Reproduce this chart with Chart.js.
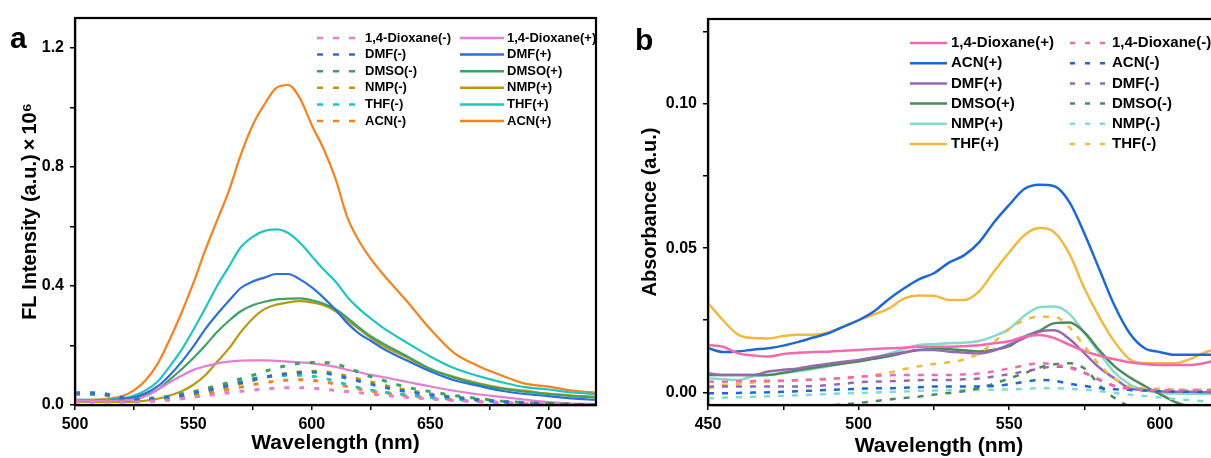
<!DOCTYPE html>
<html>
<head>
<meta charset="utf-8">
<script src="https://cdn.jsdelivr.net/npm/chart.js"></script>
<style>
  html, body { margin: 0; padding: 0; background: #fff; overflow: hidden; width: 1211px; height: 458px; }
  #wrapA { position: absolute; left: 0; top: 0; width: 600px; height: 458px; }
  #wrapB { position: absolute; left: 600px; top: 0; width: 640px; height: 458px; }
</style>
</head>
<body>
<div id="wrapA"><canvas id="chartA" width="600" height="458"></canvas></div>
<div id="wrapB"><canvas id="chartB" width="640" height="458"></canvas></div>
<script>
// ---- panel a : FL spectra ----
const aWavelength = [500, 510, 520, 525, 530, 535, 540, 545, 550, 555, 560, 565, 570, 575, 580, 585, 590, 595, 600, 605, 610, 615, 620, 625, 630, 640, 650, 660, 670, 680, 690, 700, 710, 720];
const aDioxaneP = [0.015, 0.014, 0.016, 0.019, 0.03, 0.052, 0.076, 0.098, 0.118, 0.13, 0.14, 0.146, 0.149, 0.15, 0.15, 0.148, 0.146, 0.143, 0.14, 0.135, 0.128, 0.118, 0.11, 0.101, 0.094, 0.078, 0.062, 0.048, 0.036, 0.027, 0.018, 0.01, 0.005, 0.003];
const aDmfP = [0.015, 0.015, 0.02, 0.026, 0.04, 0.063, 0.1, 0.145, 0.197, 0.255, 0.305, 0.35, 0.393, 0.415, 0.428, 0.44, 0.44, 0.422, 0.395, 0.36, 0.32, 0.275, 0.24, 0.215, 0.19, 0.15, 0.113, 0.083, 0.065, 0.048, 0.037, 0.03, 0.022, 0.017];
const aDmsoP = [0.013, 0.014, 0.018, 0.024, 0.034, 0.052, 0.085, 0.12, 0.158, 0.2, 0.245, 0.283, 0.315, 0.335, 0.347, 0.355, 0.357, 0.358, 0.352, 0.34, 0.322, 0.293, 0.26, 0.23, 0.207, 0.165, 0.122, 0.092, 0.07, 0.055, 0.045, 0.037, 0.03, 0.025];
const aNmpP = [0.012, 0.01, 0.01, 0.011, 0.015, 0.021, 0.032, 0.046, 0.068, 0.1, 0.145, 0.19, 0.245, 0.29, 0.322, 0.337, 0.345, 0.349, 0.345, 0.335, 0.315, 0.285, 0.255, 0.225, 0.2, 0.16, 0.12, 0.095, 0.074, 0.058, 0.048, 0.038, 0.032, 0.028];
const aThfP = [0.017, 0.017, 0.022, 0.032, 0.05, 0.08, 0.13, 0.185, 0.253, 0.325, 0.4, 0.465, 0.53, 0.565, 0.585, 0.59, 0.578, 0.545, 0.5, 0.455, 0.415, 0.363, 0.323, 0.29, 0.26, 0.21, 0.163, 0.124, 0.098, 0.077, 0.06, 0.052, 0.042, 0.037];
const aAcnP = [0.017, 0.018, 0.03, 0.05, 0.085, 0.14, 0.22, 0.31, 0.41, 0.52, 0.62, 0.72, 0.84, 0.94, 1.01, 1.065, 1.075, 1.03, 0.94, 0.86, 0.76, 0.63, 0.55, 0.49, 0.44, 0.35, 0.255, 0.175, 0.132, 0.1, 0.072, 0.062, 0.048, 0.042];
const aDioxaneM = [0.01, 0.01, 0.01, 0.01, 0.012, 0.014, 0.017, 0.021, 0.026, 0.031, 0.036, 0.041, 0.046, 0.05, 0.054, 0.057, 0.058, 0.058, 0.056, 0.053, 0.049, 0.045, 0.041, 0.037, 0.033, 0.026, 0.02, 0.015, 0.011, 0.008, 0.005, 0.003, 0.001, 0];
const aDmfM = [0.04, 0.04, 0.025, 0.02, 0.02, 0.022, 0.026, 0.032, 0.04, 0.048, 0.057, 0.066, 0.075, 0.085, 0.094, 0.1, 0.105, 0.109, 0.11, 0.108, 0.1, 0.09, 0.08, 0.07, 0.06, 0.045, 0.034, 0.025, 0.018, 0.012, 0.007, 0.004, 0.002, 0.001];
const aDmsoM = [0.04, 0.04, 0.02, 0.02, 0.022, 0.025, 0.03, 0.038, 0.045, 0.055, 0.065, 0.075, 0.088, 0.1, 0.113, 0.124, 0.133, 0.14, 0.143, 0.143, 0.138, 0.125, 0.11, 0.095, 0.083, 0.06, 0.045, 0.032, 0.022, 0.013, 0.008, 0.004, 0.002, 0];
const aNmpM = [0.035, 0.035, 0.02, 0.015, 0.015, 0.018, 0.022, 0.028, 0.035, 0.043, 0.052, 0.062, 0.072, 0.082, 0.092, 0.1, 0.107, 0.111, 0.113, 0.112, 0.106, 0.097, 0.087, 0.077, 0.067, 0.05, 0.037, 0.027, 0.019, 0.013, 0.008, 0.005, 0.003, 0.001];
const aThfM = [0.04, 0.038, 0.022, 0.018, 0.018, 0.02, 0.025, 0.032, 0.04, 0.05, 0.06, 0.07, 0.08, 0.088, 0.094, 0.098, 0.1, 0.1, 0.097, 0.09, 0.08, 0.068, 0.058, 0.05, 0.044, 0.034, 0.026, 0.02, 0.015, 0.01, 0.006, 0.004, 0.002, 0.001];
const aAcnM = [0.015, 0.015, 0.013, 0.012, 0.013, 0.015, 0.018, 0.022, 0.028, 0.035, 0.043, 0.052, 0.06, 0.068, 0.075, 0.08, 0.084, 0.085, 0.083, 0.078, 0.07, 0.062, 0.054, 0.047, 0.041, 0.031, 0.024, 0.018, 0.013, 0.009, 0.005, 0.003, 0.001, 0];
const aSolvents = ['1,4-Dioxane', 'DMF', 'DMSO', 'NMP', 'THF', 'ACN'];
const aColors = ['#e27ed6', '#2c6fd6', '#3ea362', '#b99812', '#22c3c3', '#f5821f'];
const aPlus = [aDioxaneP, aDmfP, aDmsoP, aNmpP, aThfP, aAcnP];
const aMinus = [aDioxaneM, aDmfM, aDmsoM, aNmpM, aThfM, aAcnM];
const aXTicks = [500, 525, 550, 575, 600, 625, 650, 675, 700];
const aYTicks = [0, 0.2, 0.4, 0.6, 0.8, 1.0, 1.2];
const aYLabels = ['0.0', '', '0.4', '', '0.8', '', '1.2'];

// ---- panel b : absorbance ----
const bWavelength = [450, 455, 460, 465, 470, 475, 480, 485, 490, 495, 500, 505, 510, 515, 520, 525, 530, 535, 540, 545, 550, 555, 560, 565, 570, 575, 580, 585, 590, 595, 600, 605, 610, 615, 620];
const bDioxaneP = [0.0164, 0.0158, 0.0135, 0.0128, 0.0124, 0.0133, 0.0137, 0.014, 0.0141, 0.0144, 0.0147, 0.015, 0.0153, 0.0155, 0.0158, 0.0158, 0.0158, 0.016, 0.0163, 0.017, 0.0177, 0.0193, 0.0199, 0.0188, 0.0165, 0.0143, 0.0127, 0.0115, 0.0104, 0.0098, 0.0095, 0.0095, 0.0095, 0.0102, 0.0115];
const bAcnP = [0.0153, 0.014, 0.0142, 0.0148, 0.0153, 0.0162, 0.0175, 0.019, 0.0205, 0.0228, 0.025, 0.028, 0.0323, 0.036, 0.0392, 0.0413, 0.045, 0.0475, 0.052, 0.059, 0.065, 0.0705, 0.072, 0.0715, 0.066, 0.055, 0.0425, 0.03, 0.0205, 0.0153, 0.014, 0.013, 0.013, 0.013, 0.013];
const bDmfP = [0.0066, 0.006, 0.006, 0.006, 0.0072, 0.0078, 0.0083, 0.0092, 0.0099, 0.0106, 0.0112, 0.0121, 0.013, 0.0139, 0.0147, 0.0147, 0.0141, 0.0138, 0.0135, 0.0145, 0.0165, 0.0188, 0.021, 0.0215, 0.0185, 0.0135, 0.0085, 0.0048, 0.0014, 0.0008, 0.0004, 0.0002, 0.0002, 0, 0];
const bDmsoP = [0.006, 0.006, 0.006, 0.006, 0.006, 0.0068, 0.0077, 0.0085, 0.0093, 0.01, 0.0107, 0.0116, 0.0125, 0.0137, 0.0147, 0.0149, 0.0149, 0.0146, 0.0142, 0.0148, 0.016, 0.0193, 0.0213, 0.024, 0.0242, 0.0208, 0.0145, 0.009, 0.0052, 0.0022, -0.0006, -0.0033, -0.005, -0.006, -0.006];
const bNmpP = [0.0049, 0.0045, 0.0043, 0.0056, 0.006, 0.0066, 0.0073, 0.0081, 0.009, 0.0101, 0.0109, 0.0121, 0.0134, 0.015, 0.0164, 0.0167, 0.017, 0.0172, 0.0178, 0.0195, 0.022, 0.0265, 0.0295, 0.0298, 0.0272, 0.0205, 0.0135, 0.0068, 0.0028, 0.0008, -0.0002, -0.0004, -0.0005, -0.0005, -0.0005];
const bThfP = [0.031, 0.025, 0.02, 0.0188, 0.0187, 0.0195, 0.02, 0.02, 0.0208, 0.0228, 0.025, 0.027, 0.029, 0.0325, 0.0336, 0.0335, 0.032, 0.032, 0.035, 0.042, 0.0485, 0.0545, 0.057, 0.0555, 0.048, 0.036, 0.026, 0.0175, 0.0115, 0.0101, 0.0101, 0.0101, 0.0115, 0.0138, 0.0155];
const bDioxaneM = [0.0037, 0.0037, 0.0038, 0.0039, 0.004, 0.004, 0.0042, 0.0044, 0.0046, 0.005, 0.0054, 0.0057, 0.0059, 0.006, 0.006, 0.006, 0.006, 0.0062, 0.0065, 0.0073, 0.0083, 0.0093, 0.0101, 0.0096, 0.0085, 0.0066, 0.0045, 0.0022, 0.0012, 0.0008, 0.0008, 0.0008, 0.0008, 0.0008, 0.0008];
const bAcnM = [-0.0003, -0.0003, -0.0002, -0.0001, 0, 0.0002, 0.0004, 0.0006, 0.0008, 0.001, 0.0012, 0.0014, 0.0014, 0.0016, 0.0018, 0.002, 0.002, 0.002, 0.002, 0.0022, 0.0028, 0.0036, 0.0043, 0.004, 0.003, 0.0022, 0.0015, 0.0011, 0.0008, 0.0006, 0.0004, 0.0003, 0.0002, 0.0002, 0.0002];
const bDmfM = [0.002, 0.002, 0.002, 0.002, 0.002, 0.002, 0.002, 0.0022, 0.0025, 0.003, 0.0035, 0.0037, 0.0038, 0.004, 0.0042, 0.0043, 0.0043, 0.0045, 0.0048, 0.0055, 0.0063, 0.0072, 0.0082, 0.0089, 0.0087, 0.0068, 0.0042, 0.0022, 0.0012, 0.0008, 0.0005, 0.0003, 0.0002, 0.0002, 0.0002];
const bDmsoM = [-0.005, -0.005, -0.005, -0.005, -0.005, -0.0049, -0.0048, -0.0047, -0.0045, -0.0042, -0.0037, -0.0031, -0.0025, -0.002, -0.0015, -0.0008, -0.0002, 0.0004, 0.0015, 0.003, 0.0048, 0.0066, 0.0086, 0.0097, 0.0101, 0.0083, 0.0025, -0.002, -0.005, -0.007, -0.008, -0.008, -0.008, -0.008, -0.008];
const bNmpM = [-0.0021, -0.0019, -0.0017, -0.0015, -0.0014, -0.0012, -0.001, -0.0008, -0.0006, -0.0004, -0.0003, -0.0001, 0.0001, 0.0003, 0.0005, 0.0006, 0.0008, 0.0008, 0.0008, 0.0009, 0.001, 0.0012, 0.0014, 0.0014, 0.0012, 0.0009, 0.0004, -0.0002, -0.0008, -0.0013, -0.0018, -0.0023, -0.0027, -0.0031, -0.0034];
const bThfM = [0.0014, 0.0025, 0.003, 0.0034, 0.0037, 0.004, 0.0043, 0.0045, 0.0047, 0.0049, 0.0052, 0.006, 0.0068, 0.008, 0.009, 0.0098, 0.0104, 0.0114, 0.0135, 0.0175, 0.022, 0.025, 0.0262, 0.0262, 0.0225, 0.016, 0.0095, 0.0048, 0.002, 0.0014, 0.0012, 0.001, 0.0008, 0.001, 0.0014];
const bSolvents = ['1,4-Dioxane', 'ACN', 'DMF', 'DMSO', 'NMP', 'THF'];
const bColors = ['#f26aae', '#1f67d2', '#9569b0', '#4d8a58', '#85dbcb', '#f0b93f'];
const bPlus = [bDioxaneP, bAcnP, bDmfP, bDmsoP, bNmpP, bThfP];
const bMinus = [bDioxaneM, bAcnM, bDmfM, bDmsoM, bNmpM, bThfM];
const bXTicks = [450, 475, 500, 525, 550, 575, 600];
const bYTicks = [0, 0.025, 0.05, 0.075, 0.1, 0.125];
const bYLabels = ['0.00', '', '0.05', '', '0.10', ''];

const FONT = "'Liberation Sans', Arial, sans-serif";

function toPoints(xs, ys) {
  return xs.map((x, i) => ({ x: x, y: ys[i] }));
}

// box round the plot area
const frameBox = {
  id: 'frameBox',
  afterDatasetsDraw(chart) {
    const { ctx, chartArea: a } = chart;
    ctx.save();
    ctx.strokeStyle = '#000';
    ctx.lineWidth = 2.2;
    ctx.strokeRect(a.left, a.top, a.right - a.left, a.bottom - a.top);
    ctx.restore();
  }
};

// two column legend, looked up from the datasets by label
const pairLegend = {
  id: 'pairLegend',
  afterDraw(chart, args, o) {
    const ctx = chart.ctx;
    ctx.save();
    ctx.font = o.font;
    ctx.textBaseline = 'middle';
    o.columns.forEach(col => {
      col.labels.forEach((lab, i) => {
        const ds = chart.data.datasets.find(d => d.label === lab);
        const y = o.top + i * o.rowGap;
        ctx.strokeStyle = ds.borderColor;
        ctx.lineWidth = col.width;
        ctx.setLineDash(col.dash);
        ctx.beginPath();
        ctx.moveTo(col.x0, y);
        ctx.lineTo(col.x1, y);
        ctx.stroke();
        ctx.fillStyle = '#000';
        ctx.fillText(lab, col.tx, y);
      });
    });
    ctx.restore();
  }
};

// panel letter and other loose text
const looseText = {
  id: 'looseText',
  afterDraw(chart, args, o) {
    const ctx = chart.ctx;
    ctx.save();
    ctx.fillStyle = '#000';
    o.items.forEach(t => {
      ctx.font = t.font;
      ctx.textAlign = t.align || 'left';
      ctx.textBaseline = 'alphabetic';
      ctx.fillText(t.text, t.x, t.y);
    });
    ctx.restore();
  }
};

function makeDatasets(xs, names, colors, plus, minus, solidW, dashW, dash) {
  const sets = [];
  names.forEach((n, i) => {
    sets.push({
      label: n + '(-)', data: toPoints(xs, minus[i]), borderColor: colors[i],
      borderWidth: dashW, borderDash: dash, pointRadius: 0, cubicInterpolationMode: 'monotone', fill: false
    });
  });
  names.forEach((n, i) => {
    sets.push({
      label: n + '(+)', data: toPoints(xs, plus[i]), borderColor: colors[i],
      borderWidth: solidW, pointRadius: 0, cubicInterpolationMode: 'monotone', fill: false
    });
  });
  return sets;
}

function axes(xMin, xMax, xTicks, yMin, yMax, yTicks, yLabels, yWidth, yTitle, yTitlePad, xTitle) {
  const tickFont = { family: FONT, size: 16, weight: 'bold' };
  const gridStyle = { drawOnChartArea: false, drawTicks: true, tickLength: 5, color: '#000', lineWidth: 1.5 };
  return {
    x: {
      type: 'linear', min: xMin, max: xMax,
      afterBuildTicks: s => { s.ticks = xTicks.map(v => ({ value: v })); },
      afterFit: s => { s.height = 53; },
      ticks: { font: tickFont, color: '#000', padding: 5, maxRotation: 0, autoSkip: false,
               callback: v => (v % 50 === 0 ? String(v) : '') },
      grid: gridStyle,
      border: { display: true, color: '#000', width: 2.2 },
      title: { display: xTitle !== '', text: xTitle, color: '#000',
               font: { family: FONT, size: 21, weight: 'bold' }, padding: { top: 0, bottom: 2 } }
    },
    y: {
      min: yMin, max: yMax,
      afterBuildTicks: s => { s.ticks = yTicks.map(v => ({ value: v })); },
      afterFit: s => { s.width = yWidth; },
      ticks: { font: tickFont, color: '#000', padding: 6, autoSkip: false,
               callback: (v, i) => yLabels[i] },
      grid: gridStyle,
      border: { display: true, color: '#000', width: 2.2 },
      title: { display: true, text: yTitle, color: '#000',
               font: { family: FONT, size: 20, weight: 'bold' }, padding: { top: yTitlePad, bottom: 0 } }
    }
  };
}

const chartA = new Chart(document.getElementById('chartA').getContext('2d'), {
  type: 'line',
  data: { datasets: makeDatasets(aWavelength, aSolvents, aColors, aPlus, aMinus, 2.2, 3, [5, 10]) },
  options: {
    responsive: false,
    animation: false,
    layout: { padding: { left: 0, top: 18, right: 4, bottom: 0 } },
    scales: axes(500, 720, aXTicks, 0, 1.3, aYTicks, aYLabels, 75, 'FL Intensity (a.u.)\u2009×\u200910⁶', 18, 'Wavelength (nm)'),
    plugins: {
      legend: { display: false },
      tooltip: { enabled: false },
      pairLegend: {
        font: 'bold 13px ' + FONT, top: 38, rowGap: 16.6,
        columns: [
          { labels: aSolvents.map(n => n + '(-)'), x0: 317, x1: 356, tx: 365, dash: [6, 10], width: 2.5 },
          { labels: aSolvents.map(n => n + '(+)'), x0: 460, x1: 504, tx: 507, dash: [], width: 2.5 }
        ]
      },
      looseText: { items: [{ text: 'a', x: 10, y: 48, font: 'bold 30px ' + FONT }] }
    }
  },
  plugins: [frameBox, pairLegend, looseText]
});

const chartB = new Chart(document.getElementById('chartB').getContext('2d'), {
  type: 'line',
  data: { datasets: makeDatasets(bWavelength, bSolvents, bColors, bPlus, bMinus, 2.5, 2.5, [6, 8]) },
  options: {
    responsive: false,
    animation: false,
    layout: { padding: { left: 0, top: 19, right: 20, bottom: 0 } },
    scales: axes(450, 620, bXTicks, -0.0044, 0.1295, bYTicks, bYLabels, 108, 'Absorbance (a.u.)', 38, ''),
    plugins: {
      legend: { display: false },
      tooltip: { enabled: false },
      pairLegend: {
        font: 'bold 15px ' + FONT, top: 43, rowGap: 20.2,
        columns: [
          { labels: bSolvents.map(n => n + '(+)'), x0: 310, x1: 347, tx: 351, dash: [], width: 2.5 },
          { labels: bSolvents.map(n => n + '(-)'), x0: 470, x1: 508, tx: 512, dash: [5, 10], width: 2.5 }
        ]
      },
      looseText: { items: [
        { text: 'b', x: 35, y: 50, font: 'bold 30px ' + FONT },
        { text: 'Wavelength (nm)', x: 339, y: 452, align: 'center', font: 'bold 21px ' + FONT }
      ] }
    }
  },
  plugins: [frameBox, pairLegend, looseText]
});
</script>
</body>
</html>
